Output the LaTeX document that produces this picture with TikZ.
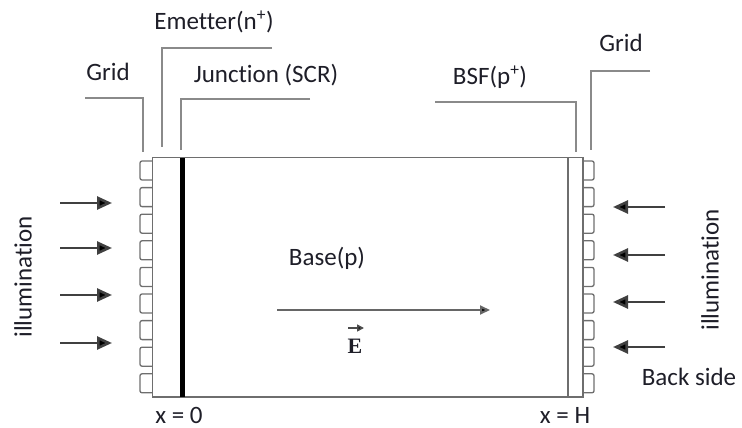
\documentclass[tikz,border=0pt]{standalone}
\usepackage{fontspec}
\setmainfont{Carlito}[Ligatures=NoCommon]
\newfontfamily\serifbold{Liberation Serif}
\usetikzlibrary{arrows.meta}

\definecolor{lead}{HTML}{8A8A8A}
\definecolor{edge}{HTML}{6E6E6E}
\definecolor{ink}{HTML}{1E1E28}

\begin{document}
\begin{tikzpicture}[x=1pt,y=-1pt,
  lbl/.style={font=\fontsize{25}{28}\selectfont, text=ink, inner sep=0pt},
  leader/.style={draw=lead, line width=1.8pt},
  cellwall/.style={draw=edge, line width=1.5pt},
  gridcell/.style={draw=edge, line width=1.3pt, rounded corners=2pt},
  light/.style={draw=black!75, line width=2.6pt, -{Triangle[length=15pt,width=13pt,fill=black]}},
  field/.style={draw=black!60, line width=2pt, -{Triangle[length=10pt,width=9pt,fill=black]}},
]
\useasboundingbox (0,0) rectangle (742,428);

% cell body
\coordinate (tl) at (152.5,157.5);
\coordinate (br) at (583,397);
\draw[cellwall] (tl) rectangle (br);
% BSF layer boundary
\coordinate (bsftop) at (568,157.5);
\coordinate (bsfbot) at (568,397);
\draw[cellwall] (bsftop) -- (bsfbot);
% junction
\coordinate (jtop) at (182,158);
\coordinate (jbot) at (182,396.5);
\draw[black, line width=5pt] (jtop) -- (jbot);

% front and back grid fingers
\foreach \i in {0,...,8}{
  \pgfmathsetmacro{\yt}{161+26.6*\i}
  \draw[gridcell] (152.5,\yt) -- (140,\yt) -- (140,\yt+19) -- (152.5,\yt+19);
  \draw[gridcell] (583,\yt) -- (594,\yt) -- (594,\yt+19) -- (583,\yt+19);
}

% labels
\node[lbl] (emit) at (214,22) {Emetter(n\textsuperscript{+})};
\node[lbl] (gridL) at (108,72) {Grid};
\node[lbl] (junc) at (266,75) {Junction (SCR)};
\node[lbl] (bsf) at (490,77) {BSF(p\textsuperscript{+})};
\node[lbl] (gridR) at (621,43) {Grid};
\node[lbl] (base) at (327,258) {Base(p)};
\node[lbl, anchor=south] (x0) at (179,423.5) {x = 0};
\node[lbl, anchor=south] (xH) at (565,423.5) {x = H};
\node[lbl] (back) at (689,377) {Back side};
\node[lbl, rotate=90] (illumL) at (23,277) {illumination};
\node[lbl, rotate=90] (illumR) at (710,270) {illumination};

% leader lines
\coordinate (gL1) at (85,98);  \coordinate (gL2) at (143,98);  \coordinate (gL3) at (143,152);
\coordinate (em1) at (272,48); \coordinate (em2) at (162,48);  \coordinate (em3) at (162,147);
\coordinate (jn1) at (310,99); \coordinate (jn2) at (181,99);  \coordinate (jn3) at (181,150);
\coordinate (bs1) at (435,102);\coordinate (bs2) at (576,102); \coordinate (bs3) at (576,152);
\coordinate (gR1) at (650,71); \coordinate (gR2) at (591,71);  \coordinate (gR3) at (591,150);
\draw[leader] (gL1) -- (gL2) -- (gL3);
\draw[leader] (em1) -- (em2) -- (em3);
\draw[leader] (jn1) -- (jn2) -- (jn3);
\draw[leader] (bs1) -- (bs2) -- (bs3);
\draw[leader] (gR1) -- (gR2) -- (gR3);

% incident light, front side
\foreach \k/\y in {1/203,2/248,3/295,4/343}{
  \coordinate (fs\k) at (60,\y);
  \coordinate (fe\k) at (112,\y);
  \draw[light] (fs\k) -- (fe\k);
}
% incident light, back side
\foreach \k/\y in {1/207,2/255,3/302,4/347}{
  \coordinate (rs\k) at (665,\y);
  \coordinate (re\k) at (613,\y);
  \draw[light] (rs\k) -- (re\k);
}

% electric field
\coordinate (ef1) at (277,310);
\coordinate (ef2) at (490,310);
\draw[field] (ef1) -- (ef2);
\node[inner sep=0pt, text=ink, font=\serifbold\bfseries\fontsize{22}{24}\selectfont] (evec) at (355,346) {E};
\coordinate (ea1) at (348,328);
\coordinate (ea2) at (364,328);
\draw[draw=black!70, line width=1.6pt, -{Triangle[length=7pt,width=7pt,fill=black]}] (ea1) -- (ea2);
\end{tikzpicture}
\end{document}
